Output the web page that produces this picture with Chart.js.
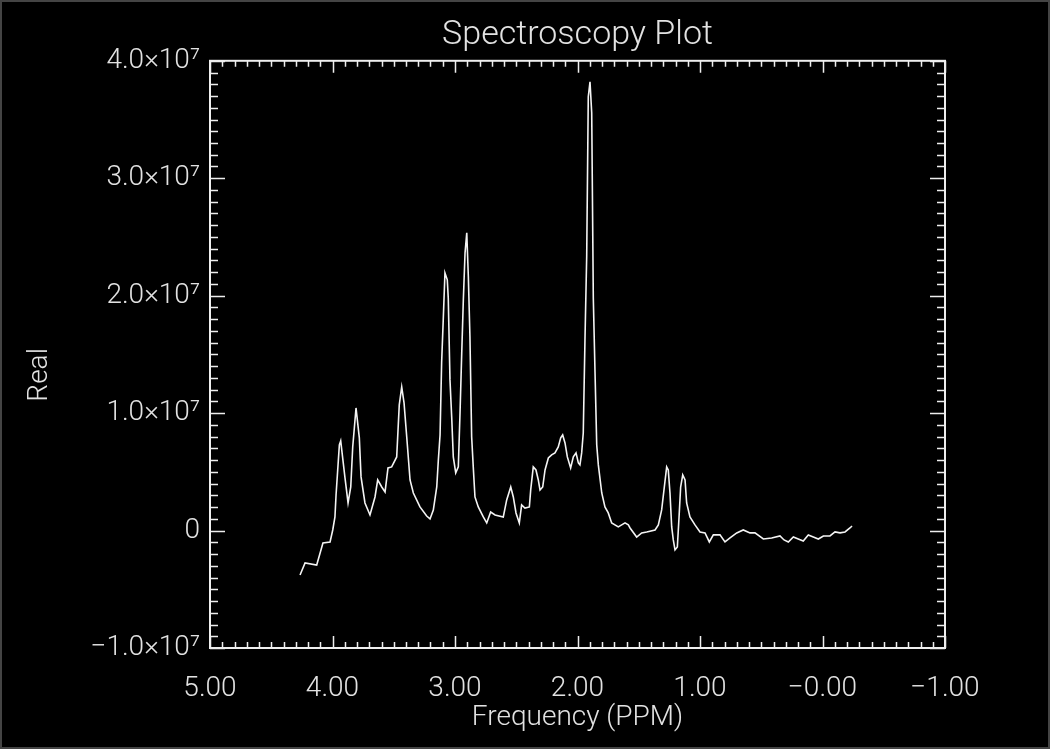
<!DOCTYPE html>
<html>
<head>
<meta charset="utf-8">
<title>Spectroscopy Plot</title>
<script src="https://cdn.jsdelivr.net/npm/chart.js@4"></script>
<style>
  html, body { margin: 0; padding: 0; background: #000; }
  canvas { display: block; }
</style>
</head>
<body>
<canvas id="canvas" width="1050" height="749"></canvas>
<script>
// spectrum (frequency in ppm, real part in units of 1e6)
const ppm = [
    4.265, 4.224, 4.129, 4.078, 4.020, 3.998, 3.980, 3.971, 3.944, 3.933,
    3.898, 3.873, 3.851, 3.835, 3.808, 3.781, 3.767, 3.735, 3.694, 3.653,
    3.631, 3.598, 3.571, 3.547, 3.517, 3.476, 3.455, 3.435, 3.416, 3.394,
    3.367, 3.340, 3.286, 3.231, 3.204, 3.177, 3.149, 3.136, 3.122, 3.109,
    3.096, 3.082, 3.063, 3.055, 3.041, 3.027, 3.014, 2.994, 2.973, 2.959,
    2.945, 2.932, 2.918, 2.904, 2.891, 2.878, 2.864, 2.851, 2.837, 2.810,
    2.769, 2.741, 2.709, 2.673, 2.606, 2.578, 2.545, 2.524, 2.502, 2.475,
    2.456, 2.429, 2.393, 2.382, 2.361, 2.339, 2.320, 2.306, 2.284, 2.265,
    2.238, 2.211, 2.184, 2.157, 2.137, 2.121, 2.102, 2.083, 2.056, 2.034,
    2.012, 1.993, 1.980, 1.966, 1.953, 1.939, 1.925, 1.912, 1.898, 1.884,
    1.871, 1.857, 1.843, 1.830, 1.802, 1.776, 1.749, 1.721, 1.667, 1.612,
    1.585, 1.571, 1.517, 1.476, 1.435, 1.367, 1.340, 1.313, 1.294, 1.272,
    1.259, 1.245, 1.231, 1.218, 1.204, 1.185, 1.171, 1.158, 1.141, 1.122,
    1.109, 1.082, 1.041, 1.000, 0.959, 0.924, 0.891, 0.837, 0.796, 0.755,
    0.700, 0.647, 0.592, 0.551, 0.483, 0.415, 0.347, 0.314, 0.279, 0.238,
    0.198, 0.157, 0.116, 0.075, 0.034, -0.007, -0.061, -0.102, -0.143, -0.184,
    -0.224, -0.241
];
const realMillions = [
    -3.78, -2.76, -2.93, -1.06, -0.97, 0.05, 1.16, 3.03, 7.29, 7.63,
    4.48, 2.35, 3.71, 7.12, 10.44, 7.89, 4.57, 2.35, 1.33, 2.86,
    4.31, 3.71, 3.29, 5.33, 5.42, 6.27, 10.70, 12.23, 10.87, 7.97,
    4.31, 3.20, 2.01, 1.24, 0.99, 1.75, 3.71, 6.01, 8.14, 14.36,
    17.94, 21.94, 21.35, 19.81, 12.83, 9.68, 6.27, 4.91, 5.42, 10.02,
    15.13, 19.64, 23.65, 25.35, 21.60, 16.49, 7.97, 5.42, 2.86, 2.01,
    1.16, 0.65, 1.58, 1.33, 1.16, 2.61, 3.71, 2.86, 1.50, 0.65,
    2.18, 1.92, 2.01, 3.46, 5.42, 5.16, 4.31, 3.46, 3.71, 5.16,
    6.18, 6.44, 6.61, 7.12, 7.89, 8.14, 7.46, 6.27, 5.33, 6.27,
    6.61, 5.76, 5.59, 6.61, 8.31, 16.24, 23.31, 36.94, 38.21, 35.57,
    19.81, 13.51, 7.29, 5.59, 3.20, 2.01, 1.50, 0.65, 0.31, 0.65,
    0.48, 0.22, -0.55, -0.20, -0.12, 0.05, 0.48, 1.76, 3.46, 5.42,
    5.16, 3.20, 0.31, -0.80, -1.65, -1.40, 1.16, 3.71, 4.74, 4.31,
    2.35, 1.16, 0.48, -0.12, -0.20, -0.97, -0.37, -0.37, -0.97, -0.63,
    -0.20, 0.05, -0.20, -0.20, -0.72, -0.63, -0.46, -0.80, -0.97, -0.55,
    -0.72, -0.89, -0.37, -0.55, -0.72, -0.46, -0.46, -0.12, -0.20, -0.12,
    0.22, 0.39
];

// axis ticks and their labels
const xTickValues = [-1, 0, 1, 2, 3, 4, 5];
const xTickLabels = ['\u22121.00', '\u22120.00', '1.00', '2.00', '3.00', '4.00', '5.00'];
const yTickValues = [-1e7, 0, 1e7, 2e7, 3e7, 4e7];
const yTickLabels = ['\u22121.0\u00d710\u2077', '0', '1.0\u00d710\u2077', '2.0\u00d710\u2077', '3.0\u00d710\u2077', '4.0\u00d710\u2077'];

const textColor = '#e2e2e2';
const axisFont = { family: 'Roboto', size: 28, weight: '300' };

let points = ppm.map((p, i) => ({ x: p, y: realMillions[i] * 1e6 }));

// black background, grey picture frame, box round the plot and inward IDL-style ticks
const idlFrame = {
    id: 'idlFrame',
    beforeDraw(chart) {
        const ctx = chart.ctx;
        ctx.save();
        ctx.fillStyle = '#000';
        ctx.fillRect(0, 0, chart.width, chart.height);
        ctx.strokeStyle = '#444';
        ctx.lineWidth = 2;
        ctx.strokeRect(1, 1, chart.width - 2, chart.height - 2);
        ctx.restore();
    },
    afterDraw(chart) {
        const { ctx, chartArea: a, scales: { x, y } } = chart;
        ctx.save();
        ctx.strokeStyle = '#eeeeee';
        ctx.lineWidth = 2;
        ctx.strokeRect(a.left, a.top, a.right - a.left, a.bottom - a.top);

        ctx.lineWidth = 1.5;
        ctx.beginPath();
        for (let i = -10; i <= 50; i++) {
            const px = Math.round(x.getPixelForValue(i / 10)) + 0.5;
            const len = i % 10 === 0 ? 12 : 6;
            ctx.moveTo(px, a.bottom); ctx.lineTo(px, a.bottom - len);
            ctx.moveTo(px, a.top); ctx.lineTo(px, a.top + len);
        }
        for (let i = -10; i <= 40; i++) {
            const py = Math.round(y.getPixelForValue(i * 1e6)) + 0.5;
            const len = i % 10 === 0 ? 15 : 8;
            ctx.moveTo(a.left, py); ctx.lineTo(a.left + len, py);
            ctx.moveTo(a.right, py); ctx.lineTo(a.right - len, py);
        }
        ctx.stroke();
        ctx.restore();
    }
};

let ctx = document.getElementById('canvas').getContext('2d');

let spectrumChart = new Chart(ctx, {
    type: 'line',
    data: {
        datasets: [{
            data: points,
            borderColor: '#f4f4f4',
            borderWidth: 1.6,
            pointRadius: 0,
            tension: 0
        }]
    },
    options: {
        responsive: false,
        animation: false,
        devicePixelRatio: 1,
        layout: { padding: { left: 0, right: 105, top: 0, bottom: 0 } },
        plugins: {
            legend: { display: false },
            tooltip: { enabled: false },
            title: {
                display: true,
                fullSize: false,
                text: 'Spectroscopy Plot',
                color: textColor,
                font: { family: 'Roboto', size: 34, weight: '300' },
                padding: { top: 15, bottom: 5 }
            }
        },
        scales: {
            x: {
                type: 'linear',
                min: -1,
                max: 5,
                reverse: true,
                grid: { display: false, drawTicks: false },
                border: { display: false },
                ticks: {
                    stepSize: 1,
                    autoSkip: false,
                    maxRotation: 0,
                    padding: 24,
                    color: textColor,
                    font: axisFont,
                    callback: (v) => xTickLabels[xTickValues.indexOf(Math.round(v))]
                },
                title: {
                    display: true,
                    text: 'Frequency (PPM)',
                    color: textColor,
                    font: axisFont,
                    padding: { top: 0, bottom: 14 }
                },
                afterFit(scale) { scale.height = 101; }
            },
            y: {
                type: 'linear',
                min: -1e7,
                max: 4e7,
                grid: { display: false, drawTicks: false },
                border: { display: false },
                ticks: {
                    stepSize: 1e7,
                    autoSkip: false,
                    padding: 10,
                    color: textColor,
                    font: axisFont,
                    callback: (v) => yTickLabels[yTickValues.indexOf(Math.round(v / 1e6) * 1e6)]
                },
                title: {
                    display: true,
                    // trailing spaces push the rotated word a little below the axis centre, as in the original
                    text: 'Real      ',
                    color: textColor,
                    font: axisFont,
                    padding: { top: 23, bottom: 0 }
                },
                afterFit(scale) { scale.width = 210; }
            }
        }
    },
    plugins: [idlFrame]
});
</script>
</body>
</html>
